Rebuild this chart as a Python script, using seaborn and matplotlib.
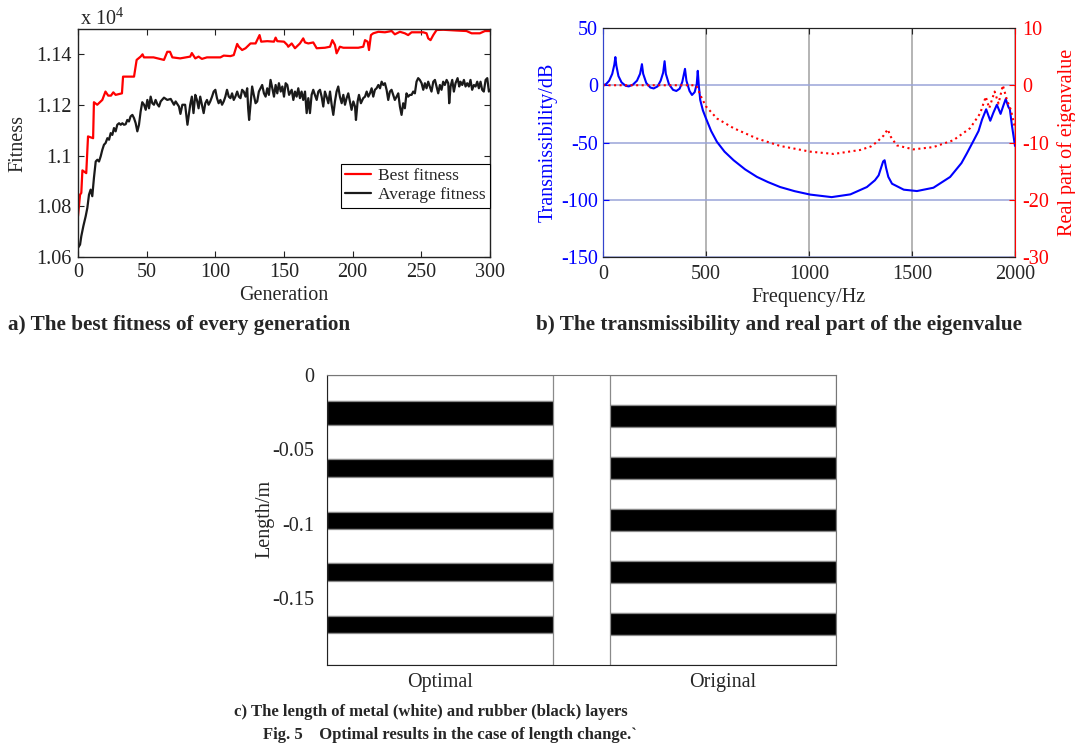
import numpy as np
import matplotlib
matplotlib.use("Agg")
import matplotlib.pyplot as plt
import seaborn as sns
from matplotlib.ticker import FuncFormatter

# ---------------- data: panel a (fitness, x 10^4) ----------------
best_gen = [0, 1.5, 2.4, 3.2, 6, 7.3, 11, 11.6, 14, 17.7,
            20, 22, 24, 25.7, 27.4, 32, 32.8, 40.8, 42.7, 45.6,
            47, 48, 55, 62.6, 65, 67, 68.7, 74.4, 81.7, 82.9,
            85.4, 87.8, 90.2, 93.9, 103.7, 106.1, 111, 113.4, 115.9, 117.1,
            119.5, 122, 125.6, 129.3, 132.2, 133.4, 137.8, 142.7, 143.9, 145.1,
            150, 152.4, 153.1, 155.6, 158, 161.6, 164, 165.3, 167.7, 171.3,
            173.8, 179.8, 183.5, 185.2, 187.1, 188.3, 190.7, 193.2, 204.1, 207.7,
            209, 210.9, 211.9, 213.3, 215, 218.7, 223.5, 228.4, 230.7, 234.4,
            238, 240.4, 242.9, 251.4, 253.8, 255, 256.7, 258.7, 261.1, 266,
            275.6, 282.9, 286.6, 292.6, 296.3, 300]
best_fitness = [1.0761, 1.0846, 1.0853, 1.0942, 1.0931, 1.1076, 1.1069, 1.1211, 1.1201, 1.1220,
                1.1253, 1.1237, 1.1237, 1.1250, 1.1240, 1.1246, 1.1312, 1.1312, 1.1378, 1.1391,
                1.1400, 1.1388, 1.1388, 1.1378, 1.1410, 1.1410, 1.1388, 1.1384, 1.1391, 1.1405,
                1.1384, 1.1391, 1.1382, 1.1388, 1.1388, 1.1395, 1.1393, 1.1397, 1.1441, 1.1430,
                1.1417, 1.1424, 1.1443, 1.1443, 1.1476, 1.1450, 1.1452, 1.1450, 1.1466, 1.1452,
                1.1450, 1.1437, 1.1430, 1.1443, 1.1424, 1.1443, 1.1463, 1.1447, 1.1443, 1.1447,
                1.1424, 1.1426, 1.1430, 1.1456, 1.1437, 1.1404, 1.1430, 1.1426, 1.1426, 1.1430,
                1.1456, 1.1450, 1.1417, 1.1476, 1.1483, 1.1489, 1.1487, 1.1492, 1.1479, 1.1489,
                1.1483, 1.1476, 1.1487, 1.1487, 1.1483, 1.1463, 1.1456, 1.1476, 1.1496, 1.1497,
                1.1494, 1.1492, 1.1483, 1.1483, 1.1492, 1.1492]

avg_gen = [0, 1.5, 2.4, 3.9, 5.6, 6.8, 8.0, 9.2, 10.4, 11.6,
           12.9, 14.1, 15.3, 16.5, 17.7, 18.9, 20.1, 21.4, 22.6, 23.8,
           25.0, 26.2, 27.4, 28.6, 29.9, 31.1, 32.3, 33.5, 34.7, 35.9,
           37.1, 38.3, 39.6, 40.8, 42.0, 43.2, 44.4, 45.6, 46.8, 48.1,
           49.3, 50.5, 51.7, 52.9, 54.1, 55.3, 56.5, 57.8, 59.0, 60.2,
           62.6, 65.0, 67.5, 69.9, 71.1, 73.5, 74.6, 76.0, 78.0, 79.7,
           81.7, 82.9, 84.1, 85.4, 86.6, 87.8, 89.0, 90.2, 91.5, 92.7,
           93.9, 95.1, 96.3, 97.6, 98.8, 100.0, 101.2, 102.4, 103.7, 104.9,
           106.1, 107.3, 108.5, 109.8, 111.0, 112.2, 113.4, 114.6, 115.9, 117.1,
           118.3, 119.5, 120.7, 122.0, 123.2, 123.9, 124.6, 125.6, 126.8, 128.0,
           129.3, 130.5, 131.7, 132.9, 134.1, 135.4, 136.6, 137.8, 139.0, 140.2,
           141.5, 142.7, 143.9, 145.1, 146.3, 147.6, 148.8, 150.0, 151.2, 152.4,
           153.7, 155.6, 156.8, 158.0, 159.2, 160.4, 161.6, 162.8, 164.0, 165.3,
           166.5, 167.7, 168.9, 170.1, 171.3, 172.5, 173.8, 175.0, 176.2, 177.4,
           178.6, 179.8, 181.0, 182.3, 183.5, 184.7, 185.9, 187.1, 188.3, 189.5,
           190.7, 192.0, 193.2, 194.4, 195.6, 196.8, 198.0, 199.2, 200.5, 201.7,
           202.4, 203.6, 204.6, 206.0, 207.7, 209.0, 210.2, 211.4, 212.6, 213.8,
           215.0, 216.2, 217.4, 218.7, 219.9, 221.1, 222.3, 223.5, 224.7, 225.9,
           227.1, 228.3, 229.5, 230.7, 232.0, 233.2, 234.4, 235.6, 236.8, 238.0,
           239.2, 240.4, 241.7, 242.9, 244.1, 245.3, 246.5, 247.7, 248.9, 250.2,
           251.4, 252.6, 253.8, 255.0, 256.2, 257.4, 258.7, 259.9, 261.1, 262.3,
           263.5, 264.7, 265.9, 267.1, 268.4, 269.6, 270.3, 271.3, 272.5, 273.7,
           274.9, 276.4, 277.6, 278.5, 279.8, 281.0, 282.2, 283.4, 284.6, 285.8,
           287.0, 288.3, 289.5, 290.7, 291.9, 293.1, 294.3, 295.5, 296.8, 298.0,
           299.2, 300.0]
avg_fitness = [1.0636, 1.0649, 1.0682, 1.0722, 1.0761, 1.0794, 1.0846, 1.0866, 1.0840, 1.0912,
               1.0977, 1.0984, 1.0977, 1.0997, 1.1023, 1.1043, 1.1050, 1.1069, 1.1063, 1.1089,
               1.1082, 1.1109, 1.1096, 1.1122, 1.1128, 1.1122, 1.1128, 1.1122, 1.1124, 1.1141,
               1.1135, 1.1155, 1.1161, 1.1148, 1.1128, 1.1096, 1.1122, 1.1174, 1.1211, 1.1201,
               1.1181, 1.1220, 1.1187, 1.1233, 1.1207, 1.1201, 1.1220, 1.1203, 1.1194, 1.1214,
               1.1229, 1.1220, 1.1224, 1.1201, 1.1214, 1.1194, 1.1165, 1.1201, 1.1201, 1.1122,
               1.1201, 1.1233, 1.1168, 1.1240, 1.1220, 1.1187, 1.1233, 1.1201, 1.1168, 1.1207,
               1.1220, 1.1201, 1.1214, 1.1233, 1.1253, 1.1260, 1.1227, 1.1207, 1.1220, 1.1201,
               1.1214, 1.1233, 1.1260, 1.1233, 1.1227, 1.1246, 1.1220, 1.1233, 1.1253, 1.1233,
               1.1227, 1.1260, 1.1253, 1.1233, 1.1266, 1.1187, 1.1141, 1.1201, 1.1273, 1.1240,
               1.1207, 1.1214, 1.1253, 1.1266, 1.1279, 1.1246, 1.1233, 1.1266, 1.1240, 1.1299,
               1.1266, 1.1233, 1.1279, 1.1246, 1.1286, 1.1253, 1.1273, 1.1233, 1.1286, 1.1279,
               1.1240, 1.1260, 1.1220, 1.1253, 1.1233, 1.1266, 1.1227, 1.1253, 1.1220, 1.1253,
               1.1168, 1.1227, 1.1168, 1.1240, 1.1260, 1.1240, 1.1220, 1.1253, 1.1260, 1.1233,
               1.1194, 1.1253, 1.1233, 1.1207, 1.1253, 1.1201, 1.1161, 1.1214, 1.1253, 1.1273,
               1.1233, 1.1207, 1.1240, 1.1201, 1.1227, 1.1246, 1.1214, 1.1181, 1.1214, 1.1194,
               1.1141, 1.1214, 1.1240, 1.1207, 1.1227, 1.1233, 1.1253, 1.1233, 1.1246, 1.1266,
               1.1233, 1.1260, 1.1266, 1.1279, 1.1266, 1.1292, 1.1279, 1.1286, 1.1260, 1.1220,
               1.1253, 1.1260, 1.1240, 1.1220, 1.1233, 1.1246, 1.1194, 1.1161, 1.1207, 1.1187,
               1.1246, 1.1233, 1.1240, 1.1240, 1.1253, 1.1246, 1.1292, 1.1306, 1.1299, 1.1286,
               1.1260, 1.1286, 1.1266, 1.1292, 1.1273, 1.1253, 1.1292, 1.1299, 1.1273, 1.1246,
               1.1279, 1.1260, 1.1292, 1.1279, 1.1299, 1.1286, 1.1207, 1.1273, 1.1299, 1.1253,
               1.1286, 1.1306, 1.1273, 1.1292, 1.1279, 1.1299, 1.1273, 1.1286, 1.1273, 1.1299,
               1.1260, 1.1279, 1.1273, 1.1292, 1.1266, 1.1292, 1.1260, 1.1253, 1.1299, 1.1306,
               1.1253, 1.1260]

# ---------------- data: panel b ----------------
freq_trans = [0, 15, 30, 45, 55, 60, 65, 75, 90, 110,
              125, 145, 165, 180, 189, 195, 210, 230, 246, 265,
              280, 292, 299, 305, 320, 340, 356, 372, 385, 398,
              405, 420, 432, 445, 455, 460, 465, 472, 485, 500,
              525, 553, 590, 634, 690, 747, 800, 860, 930, 1006,
              1110, 1201, 1281, 1320, 1338, 1350, 1360, 1367, 1374, 1385,
              1403, 1460, 1524, 1604, 1685, 1740, 1766, 1800, 1823, 1840,
              1860, 1880, 1895, 1912, 1930, 1943, 1955, 1968, 1975, 1985,
              2000]
transmissibility_db = [0, 1, 4, 10, 18, 24.6, 17, 8, 2.5, -0.5,
                       -1, 0.5, 4, 10, 18.4, 10, 2, -2, -2.8, -1,
                       4, 11, 21, 10, 1, -4, -5, -3, 3, 14.3,
                       4, -5, -8.5, -6, 1, 12.6, 0, -12.9, -22, -29,
                       -40, -49.4, -58, -65.5, -73.5, -80, -84.5, -88.9, -92.5, -95.5,
                       -97.7, -95.3, -88.9, -83, -78.7, -72, -66.5, -65.5, -72, -80,
                       -86, -91.2, -92.4, -89.5, -80.1, -68, -59.6, -48, -40, -30,
                       -21, -31, -24, -17, -25, -18, -12, -19, -21, -35,
                       -53]
freq_eig = [0, 100, 200, 300, 400, 450, 460, 472, 500, 553,
            634, 747, 860, 1006, 1120, 1249, 1300, 1330, 1362, 1382,
            1397, 1426, 1507, 1604, 1701, 1782, 1831, 1858, 1875, 1901,
            1920, 1941, 1961, 1980, 2000]
eig_real = [0, 0, 0, 0, 0, 0, -0.5, -1.7, -3.7, -5.8,
            -7.5, -9.3, -10.6, -11.6, -12.0, -11.3, -10.7, -9.9, -8.8, -7.7,
            -9.0, -10.5, -11.2, -10.8, -9.6, -7.5, -4.9, -2.0, -4.0, -1.1,
            -3.2, 0, -2.6, -4.3, -7.5]

# ---------------- data: panel c (layer thickness, m, top to bottom) ----------------
designs = ["Optimal", "Original"]
optimal_layers = [0.0175, 0.0163, 0.0229, 0.0117, 0.0235, 0.0118, 0.0229, 0.0119, 0.0235, 0.0116, 0.0213]
original_layers = [0.02, 0.015, 0.02, 0.015, 0.02, 0.015, 0.02, 0.015, 0.02, 0.015, 0.02]
layer_material = ["metal", "rubber", "metal", "rubber", "metal", "rubber",
                  "metal", "rubber", "metal", "rubber", "metal"]

# ---------------- style ----------------
sns.set_style("ticks")
plt.rcParams['font.family'] = ['Liberation Serif', 'DejaVu Serif']
plt.rcParams['mathtext.fontset'] = 'custom'
plt.rcParams['mathtext.rm'] = 'Liberation Serif'
plt.rcParams['mathtext.it'] = 'Liberation Serif:italic'
plt.rcParams['axes.unicode_minus'] = False

W, H = 1075, 752
fig = plt.figure(figsize=(W / 100, H / 100), dpi=100)
FS = 14.5
fmt_g = FuncFormatter(lambda v, p: f"{v:g}")


def px_axes(l, t, r, b):
    return fig.add_axes([l / W, 1 - b / H, (r - l) / W, (b - t) / H])


# ---------------- panel a ----------------
axa = px_axes(78, 29, 490, 257)
sns.lineplot(x=best_gen, y=best_fitness, ax=axa, color='#ff0000', lw=1.6,
             label='Best fitness', estimator=None, sort=False)
sns.lineplot(x=avg_gen, y=avg_fitness, ax=axa, color='#1a1a1a', lw=1.6,
             label='Average fitness', estimator=None, sort=False)
axa.set_xlim(0, 300)
axa.set_ylim(1.06, 1.15)
axa.set_xticks(np.arange(0, 301, 50))
axa.set_yticks([1.06, 1.08, 1.10, 1.12, 1.14])
axa.yaxis.set_major_formatter(fmt_g)
axa.tick_params(direction='in', top=True, right=True, length=4, width=0.8,
                labelsize=FS, pad=4.5, colors='#222222')
for s in axa.spines.values():
    s.set_color('#222222'); s.set_linewidth(1.0)
axa.set_xlabel('Generation', fontsize=FS)
axa.set_ylabel('Fitness', fontsize=FS)
axa.yaxis.set_label_coords(-0.146, 0.5)
axa.yaxis.label.set_va('center')
axa.xaxis.set_label_coords(0.5, -0.171)
axa.xaxis.label.set_va('center')
leg = axa.legend(loc='upper right', bbox_to_anchor=(1.0, 0.408), frameon=True,
                 fancybox=False, edgecolor='black', fontsize=12.5, handlelength=1.5,
                 borderaxespad=0, borderpad=0.25, labelspacing=0.15, handletextpad=0.4,
                 framealpha=1)
leg.get_frame().set_linewidth(0.8)
fig.text(80 / W, 1 - 25 / H, r'x 10$^{4}$', fontsize=FS, ha='left', va='baseline')

# ---------------- panel b ----------------
axb = px_axes(603, 28, 1015, 257)
axb.set_axisbelow(True)
sns.lineplot(x=freq_trans, y=transmissibility_db, ax=axb, color='#0000ff', lw=1.5,
             estimator=None, sort=False)
axb2 = axb.twinx()
sns.lineplot(x=freq_eig, y=eig_real, ax=axb2, color='#ff0000', lw=1.5, linestyle=':',
             estimator=None, sort=False)
axb.set_xlim(0, 2000)
axb.set_ylim(-150, 50)
axb2.set_ylim(-30, 10)
axb.set_xticks(np.arange(0, 2001, 500))
axb.set_yticks(np.arange(-150, 51, 50))
axb2.set_yticks(np.arange(-30, 11, 10))
axb.grid(axis='x', color='#a0a0a0', lw=1.1)
axb.grid(axis='y', color='#9aa4d8', lw=1.1)
axb.tick_params(axis='x', direction='in', top=True, length=4, labelsize=FS, pad=6)
axb.tick_params(axis='y', direction='in', length=4, labelsize=FS, colors='#0000ff', pad=3.5)
axb2.tick_params(axis='y', direction='in', length=4, labelsize=FS, colors='#ff0000', pad=5)
axb.spines['left'].set_color('#3344cc')
axb2.spines['left'].set_color('#3344cc')
axb2.spines['right'].set_color('#ff0000')
for a in (axb, axb2):
    a.spines['top'].set_color('#222222')
    a.spines['bottom'].set_color('#222222')
axb.spines['right'].set_visible(False)
axb.set_xlabel('Frequency/Hz', fontsize=FS)
axb.set_ylabel('Transmissibility/dB', fontsize=FS, color='#0000ff')
axb2.set_ylabel('Real part of eigenvalue', fontsize=FS, color='#ff0000')
axb.xaxis.set_label_coords(0.5, -0.175)
axb.xaxis.label.set_va('center')
axb.yaxis.set_label_coords(-0.1335, 0.5)
axb.yaxis.label.set_va('center')
axb2.yaxis.set_label_coords(1.1255, 0.5)
axb2.yaxis.label.set_va('center')

# ---------------- panel c ----------------
axc = px_axes(327, 375, 836, 665)
layer_colors = ['white' if m == 'metal' else 'black' for m in layer_material]
col_left = [0, 5]
for left, layers in zip(col_left, [optimal_layers, original_layers]):
    th = np.array(layers)
    ends = np.cumsum(th)
    axc.bar(x=left, height=th, bottom=-ends, width=4, align='edge',
            color=layer_colors, edgecolor='#8a8a8a', linewidth=0.9)
axc.set_xlim(0, 9)
axc.set_ylim(-sum(original_layers), 0)
axc.set_xticks([2, 7])
axc.set_xticklabels(designs)
axc.set_yticks([0, -0.05, -0.1, -0.15])
axc.yaxis.set_major_formatter(fmt_g)
axc.tick_params(axis='both', length=0, labelsize=FS)
axc.tick_params(axis='y', pad=9)
axc.tick_params(axis='x', pad=6)
axc.spines['left'].set_color('#222222')
axc.spines['bottom'].set_color('#222222')
axc.spines['top'].set_color('#777777')
axc.spines['right'].set_color('#777777')
axc.set_ylabel('Length/m', fontsize=FS)
axc.yaxis.set_label_coords(-0.1218, 0.505)
axc.yaxis.label.set_va('center')

# ---------------- captions ----------------
renderer = fig.canvas.get_renderer()


def fitted_text(x_px, y_px, s, width_px, **kw):
    t = fig.text(x_px / W, 1 - y_px / H, s, fontsize=14, ha='left', va='center', **kw)
    w = t.get_window_extent(renderer).width
    t.set_fontsize(14 * width_px / w)
    return t


fitted_text(8, 325, 'a) The best fitness of every generation', 344, fontweight='bold')
fitted_text(536, 325, 'b) The transmissibility and real part of the eigenvalue', 489, fontweight='bold')
fig.text(430.5 / W, 1 - 712 / H, 'c) The length of metal (white) and rubber (black) layers',
         fontsize=12, fontweight='bold', ha='center', va='center')
fig.text(449.5 / W, 1 - 735 / H, 'Fig. 5    Optimal results in the case of length change.`',
         fontsize=12, fontweight='bold', ha='center', va='center')

fig.savefig('out.png', dpi=100)
